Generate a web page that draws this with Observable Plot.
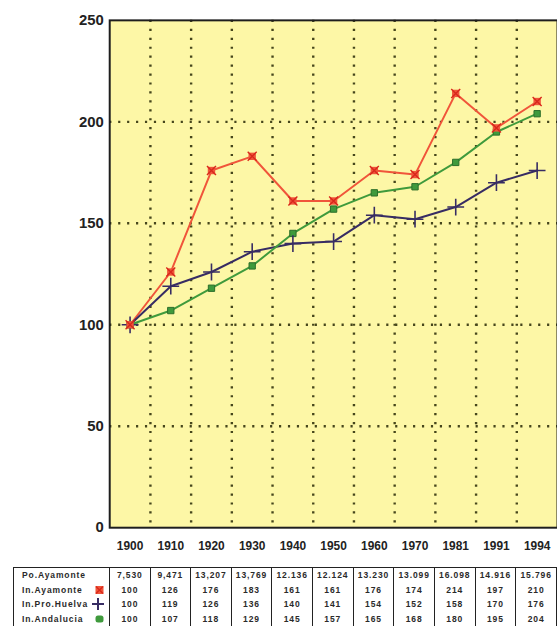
<!DOCTYPE html>
<html>
<head>
<meta charset="utf-8">
<script src="https://cdn.jsdelivr.net/npm/d3@7"></script>
<script src="https://cdn.jsdelivr.net/npm/@observablehq/plot@0.6"></script>
<style>
  html, body { margin: 0; padding: 0; background: #fff; overflow: hidden; }
  #chart svg { display: block; }
  table.data { border-collapse: collapse; table-layout: fixed; margin-left: 13px; margin-top: 11px;
    font: bold 8.5px "Liberation Sans", Arial, sans-serif; letter-spacing: 0.9px; color: #2a2a2a; }
  table.data td { border-left: 1px solid #222; border-right: 1px solid #222; height: 14.5px; padding: 0; text-align: center; }
  table.data tr:first-child td { border-top: 1px solid #222; }
  table.data td.lab { width: 88px; text-align: left; padding-left: 8px; position: relative; }
  table.data td.val { width: 40px; }
  .mk { position: absolute; right: 5px; top: 50%; transform: translateY(-50%); }
</style>
</head>
<body>
<div id="chart"></div>
<div id="table"></div>
<script>
const years = ["1900","1910","1920","1930","1940","1950","1960","1970","1981","1991","1994"];
const popAyamonte = ["7,530","9,471","13,207","13,769","12.136","12.124","13.230","13.099","16.098","14.916","15.796"];
const inAyamonte = [100,126,176,183,161,161,176,174,214,197,210];
const inHuelva = [100,119,126,136,140,141,154,152,158,170,176];
const inAndalucia = [100,107,118,129,145,157,165,168,180,195,204];
const rowLabels = ["Po.Ayamonte","In.Ayamonte","In.Pro.Huelva","In.Andalucia"];
const yTicks = [0,50,100,150,200,250];

const red = "#f0553a", navy = "#372c63", green = "#3f9a3c";
const idx = years.map((_, i) => i);
const boundaries = idx.slice(1).map(i => i - 0.5);
const series = [
  {name: "In.Ayamonte", values: inAyamonte, color: red},
  {name: "In.Pro.Huelva", values: inHuelva, color: navy},
  {name: "In.Andalucia", values: inAndalucia, color: green}
];
const rows = series.flatMap(s => s.values.map((v, i) => ({i, v, name: s.name})));
const dotStyle = "2.2,6.8";

const chart = Plot.plot({
  width: 561, height: 560,
  marginLeft: 110, marginRight: 0, marginTop: 20, marginBottom: 29,
  style: {fontFamily: "'Liberation Sans', Arial, sans-serif", background: "transparent"},
  x: {type: "linear", domain: [-0.5, years.length - 0.5], axis: null},
  y: {domain: [0, 250], axis: null},
  marks: [
    Plot.frame({fill: "#fdf7a6", stroke: null}),
    Plot.ruleY(yTicks.slice(1, -1), {stroke: "#46461c", strokeWidth: 2.4, strokeDasharray: dotStyle}),
    Plot.ruleX(boundaries, {stroke: "#46461c", strokeWidth: 2.4, strokeDasharray: dotStyle}),
    Plot.frame({stroke: "#1e1e1e", strokeWidth: 2}),
    Plot.axisY(yTicks, {label: null, tickSize: 0, tickPadding: 6, fontSize: 15, fontWeight: "bold", fill: "#222", style: "letter-spacing:0.4px"}),
    Plot.axisX(idx, {label: null, tickSize: 0, tickPadding: 14, fontSize: 12, fontWeight: "bold", fill: "#222", tickFormat: i => years[i]}),
    ...series.map(s => Plot.line(rows.filter(d => d.name === s.name), {x: "i", y: "v", stroke: s.color, strokeWidth: 2})),
    Plot.dot(rows.filter(d => d.name === "In.Andalucia"), {x: "i", y: "v", symbol: "square", r: 3.6, fill: green, stroke: "#2c6e2a", strokeWidth: 1}),
    Plot.dot(rows.filter(d => d.name === "In.Pro.Huelva"), {x: "i", y: "v", symbol: "plus", r: 5.5, stroke: navy, strokeWidth: 1.6}),
    Plot.dot(rows.filter(d => d.name === "In.Ayamonte"), {x: "i", y: "v", symbol: "square", r: 4.2, fill: red, stroke: "none"}),
    Plot.dot(rows.filter(d => d.name === "In.Ayamonte"), {x: "i", y: "v", symbol: "times", r: 4.2, stroke: "#d8281c", strokeWidth: 1.4})
  ]
});
document.getElementById("chart").appendChild(chart);

// data table below
const markers = [
  "",
  `<svg class="mk" width="9" height="9"><rect x="0.5" y="0.5" width="8" height="8" fill="${red}"/><path d="M1,1L8,8M8,1L1,8" stroke="#d8281c" stroke-width="1.3"/></svg>`,
  `<svg class="mk" width="12" height="12"><path d="M6,0V12M0,6H12" stroke="${navy}" stroke-width="2"/></svg>`,
  `<svg class="mk" width="9" height="8"><rect x="0.5" y="0.5" width="8" height="7" rx="2.5" fill="${green}"/></svg>`
];
const tableRows = [popAyamonte, inAyamonte, inHuelva, inAndalucia];
let html = '<table class="data">';
tableRows.forEach((vals, r) => {
  html += `<tr><td class="lab">${rowLabels[r]}${markers[r]}</td>`;
  vals.forEach(v => { html += `<td class="val">${v}</td>`; });
  html += "</tr>";
});
html += "</table>";
document.getElementById("table").innerHTML = html;
</script>
</body>
</html>
